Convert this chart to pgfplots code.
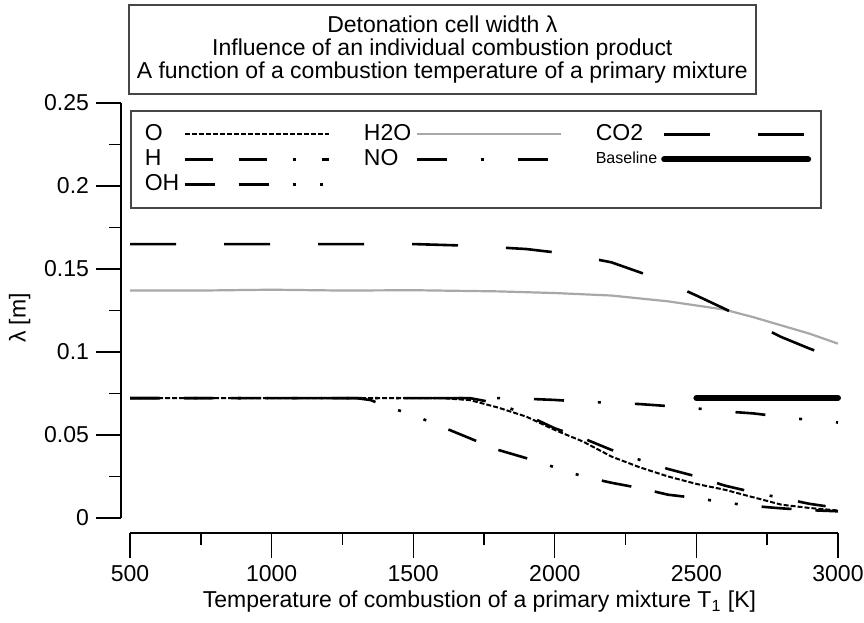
\documentclass[border=0pt]{standalone}
\usepackage{fontspec}
\setmainfont{Liberation Sans}
\usepackage{pgfplots}
\pgfplotsset{compat=1.18}

\definecolor{h2ogray}{RGB}{168,168,168}
\definecolor{boxgray}{RGB}{70,70,70}

\begin{document}
\begin{tikzpicture}[font=\fontsize{11.5}{13}\selectfont]
\begin{axis}[
    scale only axis,
    width=358.5pt, height=215pt,
    xmin=468.2, xmax=3000,
    ymin=-0.00904, ymax=0.25,
    axis x line*=bottom, axis y line*=left,
    axis line style={draw=none},
    clip=false,
    tick align=outside,
    tick style={black, line width=0.7pt},
    major tick length=12.5pt, minor tick length=6pt,
    xtick={500,1000,1500,2000,2500,3000},
    xticklabels={500,1000,1500,2000,2500,3000},
    xticklabel style={inner xsep=0pt},
    minor xtick={750,1250,1750,2250,2750},
    ytick={0,0.05,0.1,0.15,0.2,0.25},
    yticklabels={0,0.05,0.1,0.15,0.2,0.25},
    minor ytick={0.025,0.075,0.125,0.175,0.225},
    xlabel={Temperature of combustion of a primary mixture T\textsubscript{1} [K]},
    ylabel={λ [m]},
    xlabel style={yshift=2pt},
    title={Detonation cell width λ\\Influence of an individual combustion product\\A function of a combustion temperature of a primary mixture},
    title style={at={(rel axis cs:0.0098,1)}, anchor=south west, yshift=-2pt,
        draw=boxgray, line width=0.8pt, align=center, inner xsep=4pt, inner ysep=5.5pt,
        font=\fontsize{11.5}{11.5}\selectfont},
    legend columns=3,
    legend plot pos=right,
    legend image code/.code={\draw[#1] (0pt,0pt) -- (72pt,0pt);},
    legend style={at={(rel axis cs:0.0126,0.9837)}, anchor=north west,
        draw=boxgray, line width=0.8pt, inner xsep=5pt, inner ysep=5pt,
        row sep=-1pt,
        cells={anchor=west},
        /tikz/every even column/.append style={column sep=15pt},
        font=\fontsize{11.5}{12}\selectfont},
]
% O
\addplot[black, line width=1pt, dash pattern=on 2.5pt off 1pt] coordinates {
    (500,0.0722) (1000,0.0722) (1600,0.0722) (1700,0.071) (1800,0.0665)
    (1900,0.061) (2000,0.053) (2100,0.046) (2200,0.037) (2300,0.0305)
    (2400,0.025) (2500,0.0205) (2600,0.017) (2700,0.0125) (2800,0.008)
    (2900,0.006) (3000,0.0045)
};
\addlegendentry{O}
% H2O
\addplot[h2ogray, line width=1.1pt] coordinates {
    (500,0.137) (750,0.137) (1000,0.1375) (1250,0.137) (1500,0.1372)
    (1800,0.1365) (2000,0.1355) (2200,0.134) (2400,0.1305) (2600,0.1255)
    (2700,0.121) (2800,0.116) (2900,0.111) (3000,0.105)
};
\addlegendentry{H2O}
% CO2
\addplot[black, line width=1.3pt, dash pattern=on 23pt off 24pt] coordinates {
    (500,0.165) (1500,0.165) (1700,0.164) (1900,0.162) (2050,0.159)
    (2200,0.154) (2300,0.148) (2400,0.1418) (2500,0.134) (2600,0.126)
    (2700,0.1175) (2800,0.109) (2900,0.102) (3000,0.0955)
};
\addlegendentry{CO2}
% H
\addplot[black, line width=1.3pt, dash pattern=on 14pt off 13pt on 14pt off 13pt on 1.5pt off 13pt] coordinates {
    (500,0.0722) (1000,0.0722) (1700,0.0722) (1800,0.069) (1900,0.062)
    (2000,0.054) (2100,0.048) (2200,0.041) (2300,0.035) (2400,0.0295)
    (2500,0.025) (2600,0.0195) (2700,0.0155) (2800,0.012) (2900,0.0085)
    (3000,0.006)
};
\addlegendentry{H}
% NO
\addplot[black, line width=1.3pt, dash pattern=on 15pt off 17pt on 1.5pt off 17pt] coordinates {
    (500,0.0722) (1000,0.0722) (1800,0.0722) (1900,0.0718) (2000,0.0711)
    (2100,0.07) (2200,0.0694) (2300,0.0686) (2400,0.0674) (2500,0.066)
    (2600,0.0642) (2700,0.063) (2800,0.061) (2900,0.059) (3000,0.0575)
};
\addlegendentry{NO}
% Baseline
\addplot[black, line width=3pt, line cap=round] coordinates {
    (2500,0.0723) (3000,0.0723)
};
\addlegendentry{{\fontsize{8}{9}\selectfont Baseline}}
% OH
\addplot[black, line width=1.3pt, dash pattern=on 15pt off 12pt on 15pt off 12pt on 1.5pt off 12pt on 1.5pt off 12pt] coordinates {
    (500,0.0722) (1000,0.0722) (1300,0.0722) (1350,0.071) (1400,0.0675)
    (1500,0.062) (1600,0.055) (1700,0.048) (1800,0.041) (1900,0.036)
    (2000,0.0305) (2100,0.025) (2200,0.0212) (2300,0.018) (2400,0.014)
    (2500,0.012) (2600,0.0093) (2700,0.0072) (2800,0.0058) (2900,0.0047)
    (3000,0.004)
};
\addlegendentry{OH}
% detached axis lines
\draw[black, line width=0.7pt] (axis cs:500,-0.00904) -- (axis cs:3000,-0.00904);
\draw[black, line width=0.7pt] (axis cs:468.2,0) -- (axis cs:468.2,0.25);
% page extent
\path (rel axis cs:-0.1688,-0.2093) rectangle (rel axis cs:1.0363,1.2395);
\end{axis}
\end{tikzpicture}
\end{document}
